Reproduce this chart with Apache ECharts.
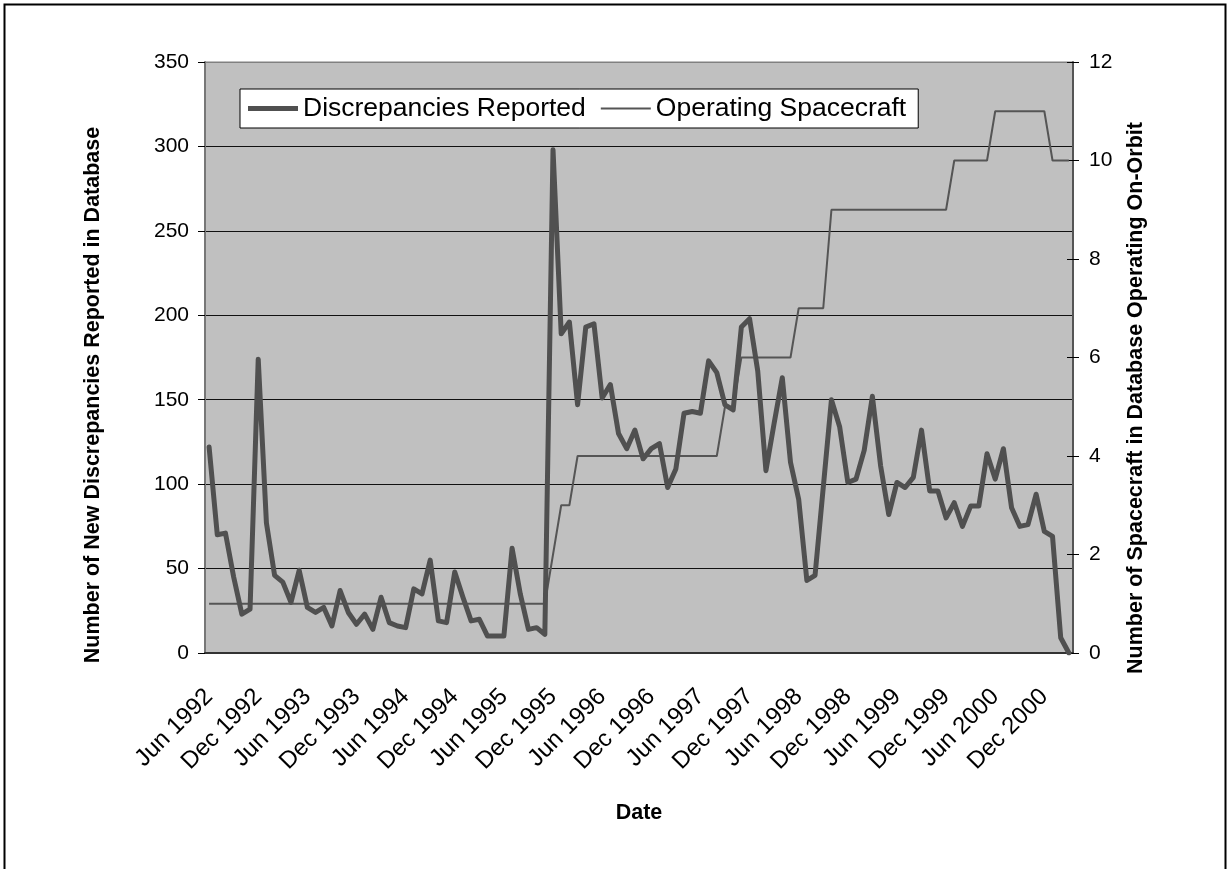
<!DOCTYPE html>
<html>
<head>
<meta charset="utf-8">
<script src="https://cdn.jsdelivr.net/npm/echarts@6/dist/echarts.min.js"></script>
<style>
  html, body { margin: 0; padding: 0; background: #fff; }
  #chart { width: 1230px; height: 869px; }
</style>
</head>
<body>
<div id="chart"></div>
<script>
// monthly data, Jun 1992 .. Mar 2001
const monthNames = ['Jan', 'Feb', 'Mar', 'Apr', 'May', 'Jun', 'Jul', 'Aug', 'Sep', 'Oct', 'Nov', 'Dec']
const startYear = 1992
const startMonth = 5 // Jun
const monthCount = 106

const discrepancies = [
  122, 70, 71, 45, 23, 26, 174,                          // 1992 Jun-Dec
  77, 46, 42, 30, 49, 27, 24, 27, 16, 37, 24, 17,        // 1993
  23, 14, 33, 18, 16, 15, 38, 35, 55, 19, 18, 48,        // 1994
  33, 19, 20, 10, 10, 10, 62, 35, 14, 15, 11, 298,       // 1995
  189, 196, 147, 193, 195, 151, 159, 130, 121, 132, 115, 121, // 1996
  124, 98, 109, 142, 143, 142, 173, 166, 147, 144, 193, 198,  // 1997
  167, 108, 136, 163, 113, 91, 43, 46, 98, 150, 134, 101,     // 1998
  103, 120, 152, 111, 82, 101, 98, 104, 132, 96, 96, 80,      // 1999
  89, 75, 87, 87, 118, 103, 121, 86, 75, 76, 94, 72,          // 2000
  69, 9, 0                                                    // 2001 Jan-Mar
]

const spacecraft = [
  1, 1, 1, 1, 1, 1, 1,
  1, 1, 1, 1, 1, 1, 1, 1, 1, 1, 1, 1,
  1, 1, 1, 1, 1, 1, 1, 1, 1, 1, 1, 1,
  1, 1, 1, 1, 1, 1, 1, 1, 1, 1, 1, 2,
  3, 3, 4, 4, 4, 4, 4, 4, 4, 4, 4, 4,
  4, 4, 4, 4, 4, 4, 4, 4, 5, 5, 6, 6,
  6, 6, 6, 6, 6, 7, 7, 7, 7, 9, 9, 9,
  9, 9, 9, 9, 9, 9, 9, 9, 9, 9, 9, 9,
  10, 10, 10, 10, 10, 11, 11, 11, 11, 11, 11, 11,
  10, 10, 10
]

const leftTicks = { min: 0, max: 350, interval: 50 }
const rightTicks = { min: 0, max: 12, interval: 2 }

const categories = []
for (let k = 0; k < monthCount; k++) {
  const m = (startMonth + k) % 12
  const y = startYear + Math.floor((startMonth + k) / 12)
  categories.push(monthNames[m] + ' ' + y)
}

const FONT = '"Liberation Sans", Arial, sans-serif'
const LINE_GREY = '#505050'
const chart = echarts.init(document.getElementById('chart'))

chart.setOption({
  backgroundColor: '#ffffff',
  animation: false,
  textStyle: { fontFamily: FONT, color: '#000' },
  grid: {
    show: true,
    left: 205,
    right: 157,
    top: 62,
    bottom: 216,
    backgroundColor: '#c0c0c0',
    borderColor: '#808080',
    borderWidth: 1
  },
  legend: {
    left: 240,
    top: 89,
    padding: [6, 12, 6, 8],
    itemWidth: 50,
    itemHeight: 14,
    itemGap: 15,
    backgroundColor: '#fff',
    borderColor: '#000',
    borderWidth: 1,
    textStyle: { fontSize: 26.5, fontFamily: FONT, color: '#000', lineHeight: 27 },
    data: [
      // flat line samples, thick and thin
      { name: 'Discrepancies Reported', icon: 'path://M0,0H50V5H0Z' },
      { name: 'Operating Spacecraft', icon: 'path://M0,0H50V2H0Z' }
    ]
  },
  xAxis: {
    type: 'category',
    data: categories,
    boundaryGap: true,
    axisLine: { lineStyle: { color: '#333', width: 2 } },
    axisTick: { interval: 5, length: 7, lineStyle: { color: '#000' } },
    axisLabel: {
      interval: 5,
      rotate: 45,
      margin: 40,
      fontSize: 24,
      fontFamily: FONT,
      color: '#000'
    }
  },
  yAxis: [
    {
      type: 'value',
      min: leftTicks.min,
      max: leftTicks.max,
      interval: leftTicks.interval,
      axisLine: { show: true, lineStyle: { color: '#777', width: 2 } },
      axisTick: { show: true, length: 7, lineStyle: { color: '#000' } },
      axisLabel: { margin: 16, fontSize: 21, fontFamily: FONT, color: '#000' },
      // top line (350) is the grey plot border, the rest are black
      splitLine: {
        show: true,
        lineStyle: {
          color: ['#111', '#111', '#111', '#111', '#111', '#111', '#111', '#808080'],
          width: 1
        }
      }
    },
    {
      type: 'value',
      position: 'right',
      min: rightTicks.min,
      max: rightTicks.max,
      interval: rightTicks.interval,
      axisLine: { show: true, lineStyle: { color: '#555', width: 2 } },
      axisTick: { show: true, length: 6, lineStyle: { color: '#000' } },
      axisLabel: { margin: 16, fontSize: 21, fontFamily: FONT, color: '#000' },
      splitLine: { show: false }
    },
    {
      // inner half of the crossing ticks on the right axis
      type: 'value',
      position: 'right',
      min: rightTicks.min,
      max: rightTicks.max,
      interval: rightTicks.interval,
      axisLine: { show: false },
      axisTick: { show: true, inside: true, length: 6, lineStyle: { color: '#000' } },
      axisLabel: { show: false },
      splitLine: { show: false }
    }
  ],
  series: [
    {
      name: 'Discrepancies Reported',
      type: 'line',
      yAxisIndex: 0,
      data: discrepancies,
      symbol: 'none',
      z: 3,
      lineStyle: { color: LINE_GREY, width: 5, join: 'round', cap: 'round' },
      itemStyle: { color: LINE_GREY }
    },
    {
      name: 'Operating Spacecraft',
      type: 'line',
      yAxisIndex: 1,
      data: spacecraft,
      symbol: 'none',
      z: 2,
      lineStyle: { color: '#555', width: 2 },
      itemStyle: { color: '#555' }
    }
  ],
  graphic: [
    {
      type: 'rect',
      silent: true,
      shape: { x: 4.5, y: 4.5, width: 1221, height: 900 },
      style: { fill: 'none', stroke: '#000', lineWidth: 2 }
    },
    {
      type: 'text',
      x: 93,
      y: 395,
      rotation: Math.PI / 2,
      style: {
        text: 'Number of New Discrepancies Reported in Database',
        fontSize: 21.5, fontWeight: 'bold', fontFamily: FONT, fill: '#000',
        align: 'center', verticalAlign: 'middle'
      }
    },
    {
      type: 'text',
      x: 1136,
      y: 398,
      rotation: Math.PI / 2,
      style: {
        text: 'Number of Spacecraft in Database Operating On-Orbit',
        fontSize: 21.5, fontWeight: 'bold', fontFamily: FONT, fill: '#000',
        align: 'center', verticalAlign: 'middle'
      }
    },
    {
      type: 'text',
      x: 639,
      y: 813,
      style: {
        text: 'Date',
        fontSize: 21.5, fontWeight: 'bold', fontFamily: FONT, fill: '#000',
        align: 'center', verticalAlign: 'middle'
      }
    }
  ]
})
</script>
</body>
</html>
